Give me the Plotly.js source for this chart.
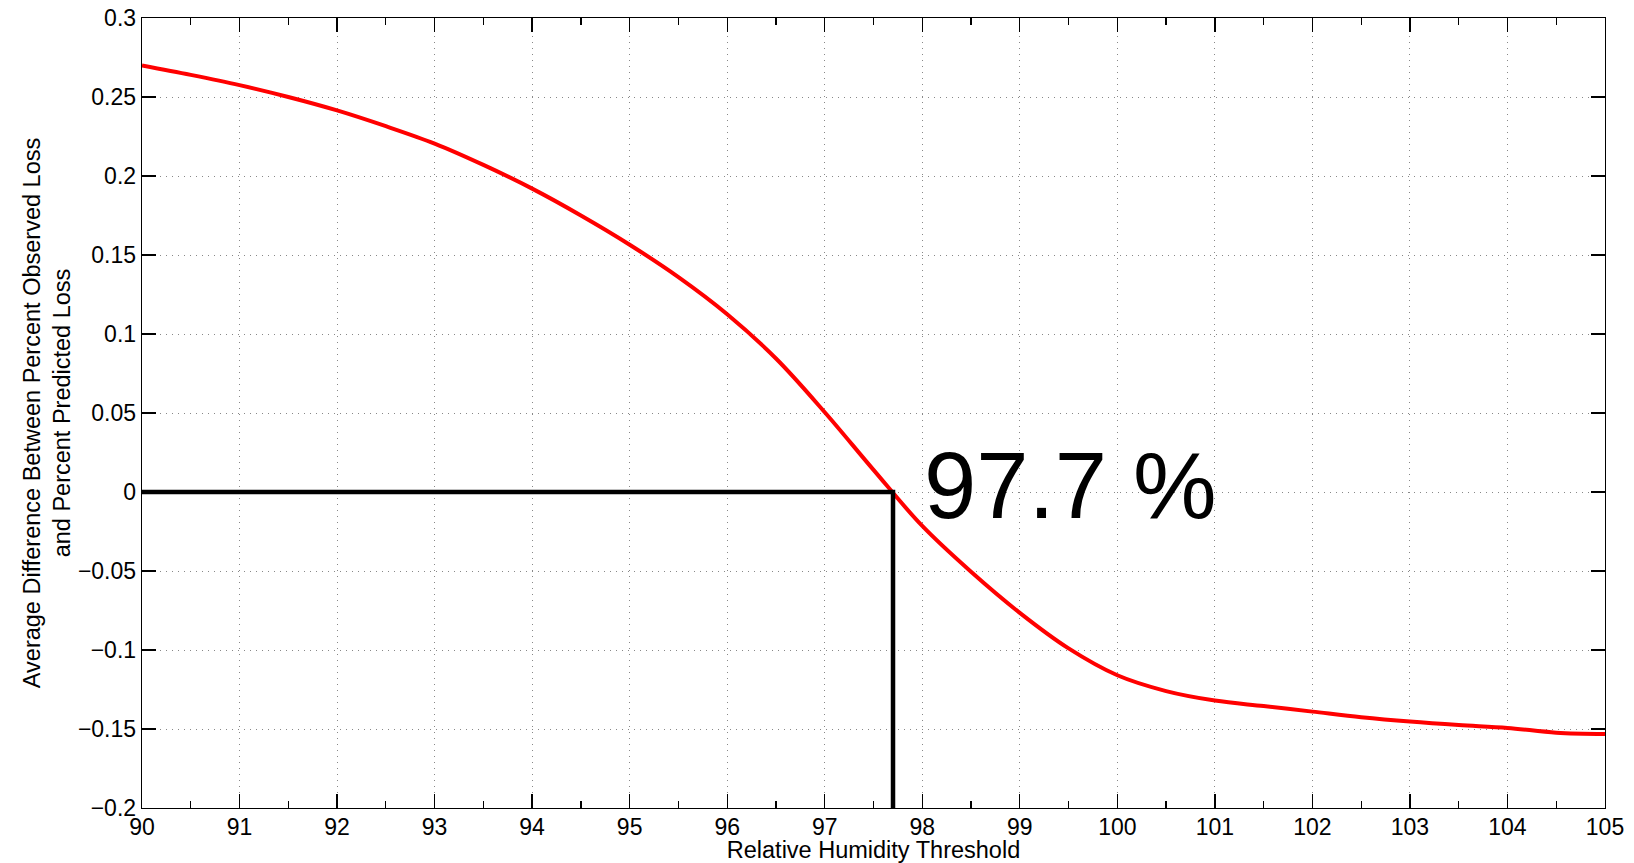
<!DOCTYPE html>
<html>
<head>
<meta charset="utf-8">
<script src="https://cdn.plot.ly/plotly-3.0.1.min.js"></script>
<style>html,body{margin:0;padding:0;background:#fff;}#chart{width:1634px;height:863px;}</style>
</head>
<body>
<div id="chart"></div>
<script>
// Relative humidity threshold (x) and average difference (y)
const rhThreshold = [90, 90.5, 91, 91.5, 92, 92.5, 93, 93.5, 94, 94.5, 95, 95.5, 96, 96.5, 97, 97.5, 98, 98.5, 99, 99.5, 100, 100.5, 101, 101.5, 102, 102.5, 103, 103.5, 104, 104.5, 105];
const avgDifference = [0.270, 0.264, 0.2575, 0.250, 0.2415, 0.2315, 0.2205, 0.207, 0.192, 0.175, 0.1565, 0.136, 0.1125, 0.0845, 0.0505, 0.014, -0.0215, -0.0505, -0.0765, -0.099, -0.116, -0.126, -0.132, -0.1355, -0.139, -0.1425, -0.1453, -0.1475, -0.1493, -0.1523, -0.1531];

// Crossing point marker
const crossingX = 97.7;
const crossingLabel = "97.7 %";
const xRange = [90, 105];
const yRange = [-0.2, 0.3];

const xTickVals = [90, 91, 92, 93, 94, 95, 96, 97, 98, 99, 100, 101, 102, 103, 104, 105];
const yTickVals = [-0.2, -0.15, -0.1, -0.05, 0, 0.05, 0.1, 0.15, 0.2, 0.25, 0.3];
const yTickText = ["\u22120.2", "\u22120.15", "\u22120.1", "\u22120.05", "0", "0.05", "0.1", "0.15", "0.2", "0.25", "0.3"];

const FONT = "'Liberation Sans', Arial, Helvetica, sans-serif";

const traces = [
  {
    x: rhThreshold,
    y: avgDifference,
    type: "scatter",
    mode: "lines",
    line: {color: "#ff0000", width: 4, shape: "spline", smoothing: 1},
    hoverinfo: "x+y",
    showlegend: false
  },
  {
    x: [xRange[0], crossingX, crossingX],
    y: [0, 0, yRange[0]],
    type: "scatter",
    mode: "lines",
    line: {color: "#000000", width: 4.5},
    hoverinfo: "skip",
    showlegend: false
  }
];

const axisCommon = {
  showline: true,
  linecolor: "#000",
  linewidth: 1.3,
  mirror: "allticks",
  ticks: "inside",
  ticklen: 14,
  tickwidth: 1.3,
  tickcolor: "#000",
  showgrid: true,
  gridcolor: "#888",
  gridwidth: 1,
  griddash: "1px,5px",
  zeroline: false,
  tickfont: {family: FONT, size: 23, color: "#000"}
};

const layout = {
  width: 1634,
  height: 863,
  margin: {l: 142, r: 29, t: 18, b: 55},
  paper_bgcolor: "#fff",
  plot_bgcolor: "#fff",
  font: {family: FONT, color: "#000"},
  xaxis: Object.assign({}, axisCommon, {
    range: xRange,
    tickmode: "array",
    tickvals: xTickVals,
    ticklabelstandoff: -2,
    tickfont: {family: FONT, size: 23, color: "#000"},
    minor: {ticks: "inside", ticklen: 7, tickwidth: 1.3, tickcolor: "#000", dtick: 0.5, tick0: 90, showgrid: false},
    title: {text: "Relative Humidity Threshold", font: {family: FONT, size: 23.5, color: "#000"}, standoff: 2}
  }),
  yaxis: Object.assign({}, axisCommon, {
    range: yRange,
    tickmode: "array",
    tickvals: yTickVals,
    ticktext: yTickText,
    title: {text: "Average Difference Between Percent Observed Loss<br>and Percent Predicted Loss", font: {family: FONT, size: 23.5, color: "#000"}, standoff: 0}
  }),
  annotations: [
    {
      x: 98,
      y: 0.004,
      xref: "x",
      yref: "y",
      text: crossingLabel,
      showarrow: false,
      xanchor: "left",
      yanchor: "middle",
      font: {family: FONT, size: 94, color: "#000"}
    }
  ]
};

Plotly.newPlot("chart", traces, layout, {displayModeBar: false, staticPlot: true});
</script>
</body>
</html>
